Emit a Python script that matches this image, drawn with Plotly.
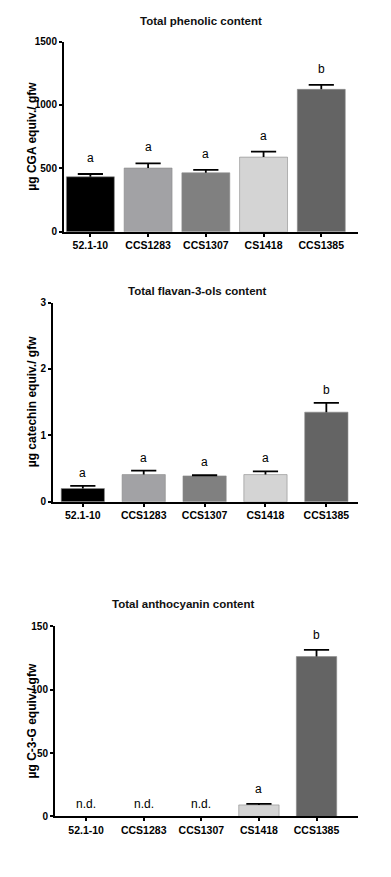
import plotly.graph_objects as go

categories = ["52.1-10", "CCS1283", "CCS1307", "CS1418", "CCS1385"]
bar_colors = ["#000000", "#a2a2a5", "#808080", "#d4d4d4", "#646464"]

phenolic_mean = [434, 503, 465, 589, 1123]
phenolic_err = [22, 37, 23, 44, 36]
phenolic_letters = ["a", "a", "a", "a", "b"]

flavan_mean = [0.20, 0.41, 0.39, 0.41, 1.35]
flavan_err = [0.04, 0.06, 0.01, 0.05, 0.14]
flavan_letters = ["a", "a", "a", "a", "b"]

antho_mean = [None, None, None, 9.1, 126.2]
antho_err = [0, 0, 0, 0.8, 5.2]
antho_letters = ["n.d.", "n.d.", "n.d.", "a", "b"]

titles = ["Total phenolic content", "Total flavan-3-ols content", "Total anthocyanin content"]
ytitles = ["µg CGA equiv./ gfw", "µg catechin equiv./ gfw", "µg C-3-G equiv./ gfw"]
yticks = [[0, 500, 1000, 1500], [0, 1, 2, 3], [0, 50, 100, 150]]
yranges = [[0, 1500], [0, 3], [0, 150]]

W, H = 391, 877
FONT = "Liberation Sans, Arial, sans-serif"

# panel geometry in pixels: (left, right, top, bottom), x range, bar width, title pos, letter shift
panels = [
    dict(px=(64, 358, 36, 229), xr=[-0.457, 4.636], bw=0.83, tx=201, ty=15, shift=16),
    dict(px=(53, 358, 300.7, 502.7), xr=[-0.49, 4.52], bw=0.71, tx=197, ty=289, shift=13),
    dict(px=(55, 358, 629, 821.7), xr=[-0.54, 4.72], bw=0.70, tx=183, ty=606, shift=15),
]

means = [phenolic_mean, flavan_mean, antho_mean]
errs = [phenolic_err, flavan_err, antho_err]
letters = [phenolic_letters, flavan_letters, antho_letters]

fig = go.Figure()
annotations = []
layout_axes = {}

for i, p in enumerate(panels):
    n = "" if i == 0 else str(i + 1)
    xa, ya = "x" + n, "y" + n
    l, r, t, b = p["px"]
    fig.add_trace(go.Bar(
        x=categories, y=means[i], xaxis=xa, yaxis=ya,
        width=p["bw"],
        marker=dict(color=bar_colors, line=dict(color="#8a8a8a", width=0.6)),
        showlegend=False, hoverinfo="x+y",
    ))
    # one-sided (upper) error bars: stem + cap
    sx, sy, cx, cy = [], [], [], []
    for j, c in enumerate(categories):
        m = means[i][j]
        e = errs[i][j]
        if m is None:
            continue
        sx += [c, c, None]
        sy += [m, m + e, None]
        cx.append(c)
        cy.append(m + e)
    fig.add_trace(go.Scatter(
        x=sx, y=sy, xaxis=xa, yaxis=ya, mode="lines",
        line=dict(color="black", width=1.8), showlegend=False, hoverinfo="skip",
    ))
    fig.add_trace(go.Scatter(
        x=cx, y=cy, xaxis=xa, yaxis=ya, mode="markers",
        marker=dict(symbol="line-ew", size=18, line=dict(color="black", width=1.8)),
        showlegend=False, hoverinfo="skip",
    ))
    layout_axes["xaxis" + n] = dict(
        domain=[l / W, r / W], anchor=ya, type="category",
        categoryorder="array", categoryarray=categories,
        range=p["xr"], showline=True, linecolor="black", linewidth=2,
        ticks="outside", ticklen=3, tickwidth=1.5, tickcolor="black",
        showgrid=False, zeroline=False,
        tickfont=dict(family=FONT, size=10.5, color="black", weight="bold"),
    )
    layout_axes["yaxis" + n] = dict(
        domain=[1 - b / H, 1 - t / H], anchor=xa,
        range=yranges[i], tickvals=yticks[i],
        showline=True, linecolor="black", linewidth=2,
        ticks="outside", ticklen=3, tickwidth=2, tickcolor="black",
        showgrid=False, zeroline=False,
        tickfont=dict(family=FONT, size=10, color="black", weight="bold"),
    )
    annotations.append(dict(
        text=titles[i], xref="paper", yref="paper", x=p["tx"] / W, y=1 - p["ty"] / H,
        xanchor="center", yanchor="middle", showarrow=False,
        font=dict(family=FONT, size=11.5, color="#111111", weight="bold"),
    ))
    annotations.append(dict(
        text=ytitles[i], xref="paper", yref="paper", x=32 / W, y=1 - ((t + b) / 2) / H,
        xanchor="center", yanchor="middle", textangle=-90, showarrow=False,
        font=dict(family=FONT, size=12, color="black", weight="bold"),
    ))
    for j, c in enumerate(categories):
        m = means[i][j]
        top = (m if m is not None else 0) + errs[i][j]
        annotations.append(dict(
            text=letters[i][j], xref=xa, yref=ya, x=c, y=top,
            xanchor="center", yanchor="middle", yshift=p["shift"] if m is not None else 12,
            showarrow=False, font=dict(family=FONT, size=12, color="black"),
        ))

fig.update_layout(
    width=W, height=H, autosize=False,
    margin=dict(l=0, r=0, t=0, b=0),
    paper_bgcolor="white", plot_bgcolor="white",
    annotations=annotations,
    **layout_axes,
)

fig.write_html("out.html", config={"displayModeBar": False},
               post_script="document.body.style.margin='0';")
